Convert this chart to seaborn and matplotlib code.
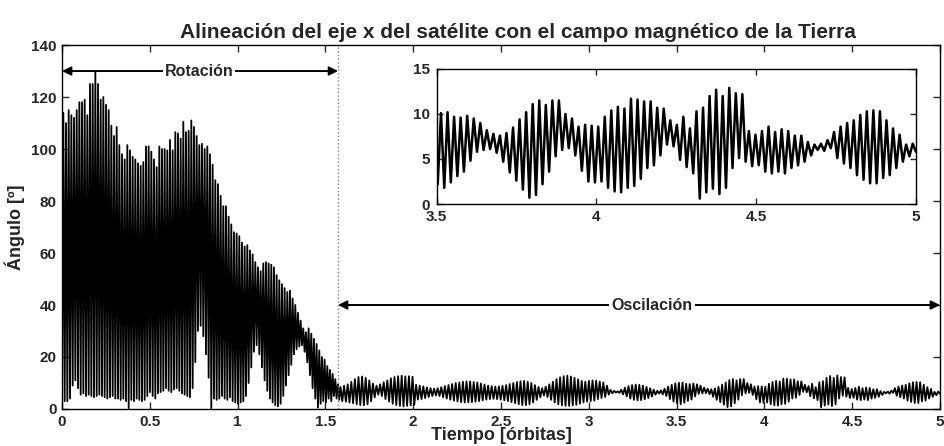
import numpy as np
import pandas as pd
import matplotlib
matplotlib.use("Agg")
import matplotlib.pyplot as plt
import seaborn as sns

sns.set_style("ticks")
plt.rcParams['font.family'] = ['Liberation Sans', 'DejaVu Sans']
plt.rcParams['font.weight'] = 'bold'
plt.rcParams['axes.labelweight'] = 'bold'
plt.rcParams['axes.titleweight'] = 'bold'

# ---- rotation phase: one trough to start, then peak/trough per cycle ----
rot_start = 3.0
rot_peaks = [114, 110, 115, 113, 112, 115, 118, 118, 119, 113,
             125, 125, 129.5, 125, 119, 120, 117, 115, 109, 105,
             108.5, 101.5, 98, 96, 101.5, 99.5, 97, 96, 94.5, 93.5,
             95, 101, 101, 99, 96, 93, 101, 100, 100, 99.5,
             103.5, 99.5, 106.5, 106, 104, 110.5, 106.5, 107, 111, 108.5,
             105, 101.5, 102, 100, 101, 98, 94, 88, 86.5, 82,
             78, 78, 74, 71, 68, 67.5, 66.5, 64, 62.5, 63,
             61, 59.5, 56.5, 54.5, 53, 56, 56.5, 56, 55.5, 54.5,
             51.5, 49.5, 48, 46.5, 45, 45.5, 42.5, 40, 37, 34,
             31, 29.5, 31, 29, 27, 25, 22.5, 20, 19, 16.5,
             15, 13.5, 11.5, 9.5]
rot_troughs = [3, 3, 4, 9, 11, 8, 5.5, 6, 5, 5.5,
               5, 4.5, 5, 5.5, 5, 4.5, 4, 4.5, 5, 4,
               4, 3.5, 4, 3, 0.3, 3.5, 3, 4, 3.5, 3,
               3.5, 5, 6.5, 5, 4, 6, 6.5, 7, 8, 7,
               6.5, 7.5, 8, 7, 6, 5.5, 5, 4.5, 8, 18,
               30, 32, 28, 21, 12, 0.3, 4, 3.5, 4, 5,
               4, 3.5, 4.5, 3, 2.5, 2, 2.5, 3, 5, 10,
               16, 22, 24.5, 21, 16, 11, 7, 4, 2.5, 1.5,
               1, 2, 5, 9, 13, 17, 21, 23, 24, 24.5,
               22, 18, 13, 8, 4, 0.5, 2, 3, 2.5, 4,
               3, 5, 4, 3.5]
rot_t_end = 1.579

# ---- oscillation phase: peak/trough per cycle ----
osc_peaks = [8.5, 9.0, 9.5, 10.5, 11.5, 12.3, 12.5, 12.0, 11.0, 9.8,
             9.0, 9.5, 10.3, 11.0, 11.8, 12.3, 12.6, 12.8, 12.5, 12.6,
             12.4, 9.3, 9.0, 8.7, 8.3, 8.0, 7.8, 8.0, 8.4, 8.8,
             9.2, 9.6, 10.0, 10.2, 10.5, 10.6, 10.6, 10.4, 10.2, 9.8,
             9.4, 9.0, 8.8, 8.6, 8.7, 8.9, 9.2, 9.6, 10.0, 10.4,
             10.7, 10.8, 10.5, 10.0, 9.2, 8.5, 8.0, 8.6, 9.5, 10.5,
             11.5, 12.2, 12.6, 12.8, 12.5, 12.0, 11.4, 10.8, 10.5, 10.8,
             11.0, 10.9, 10.6, 10.2, 9.0, 7.4, 7.0, 6.8, 7.4, 8.2,
             8.8, 9.2, 9.4, 9.3, 9.0, 8.5, 8.0, 7.4, 7.0, 7.2,
             7.8, 8.6, 9.3, 9.9,
             10.1, 10.2, 9.7, 9.6, 9.8, 9.5, 9.0, 8.2, 7.8, 7.6,
             7.9, 8.5, 9.4, 10.2, 11.1, 11.5, 11.0, 11.5, 11.5, 10.0,
             9.5, 8.6, 8.8, 8.7,
             8.6, 9.7, 10.4, 10.8, 10.6, 11.7, 11.6, 11.4, 11.4, 10.7,
             10.6, 9.3, 8.8, 9.7, 8.4, 10.3, 10.7, 12.0, 12.7, 12.0,
             12.9, 12.3, 12.2, 8.1,
             7.7, 8.1, 8.6, 8.0, 8.3, 8.1, 7.6, 7.6, 6.9, 6.6,
             6.7, 7.1, 8.0, 8.6, 9.0, 9.3, 9.9, 10.3, 10.4, 10.3,
             9.3, 8.4, 7.7, 6.6, 6.7]
osc_troughs = [3.0, 2.8, 2.5, 2.2, 1.8, 1.5, 1.4, 1.8, 3.0, 4.5,
               5.5, 5.0, 3.8, 2.8, 2.0, 1.5, 1.2, 1.0, 1.2, 1.4,
               1.6, 3.6, 3.8, 4.2, 4.6, 5.0, 5.2, 5.0, 4.5, 4.0,
               3.6, 3.2, 2.9, 2.6, 2.5, 2.5, 2.6, 2.8, 3.0, 3.3,
               3.6, 3.8, 3.9, 3.8, 3.6, 3.3, 3.0, 2.6, 2.2, 1.8,
               1.5, 1.5, 1.8, 2.5, 3.5, 4.5, 5.2, 4.6, 3.5, 2.5,
               1.8, 1.4, 1.2, 1.2, 1.4, 1.6, 2.0, 2.5, 2.8, 3.0,
               3.2, 3.8, 4.2, 4.6, 5.5, 6.0, 6.3, 6.2, 5.6, 4.8,
               4.0, 3.5, 3.3, 3.4, 3.7, 4.2, 4.8, 5.5, 5.9, 5.6,
               5.0, 3.8, 2.8, 2.2,
               1.8, 2.4, 3.1, 3.6, 4.8, 5.8, 6.0, 6.1, 5.7, 4.7,
               3.5, 2.6, 1.6, 0.7, 1.0, 2.2, 3.6, 5.3, 6.0, 6.2,
               5.4, 3.7, 2.5, 2.4,
               2.5, 1.8, 1.4, 1.3, 1.8, 2.0, 2.8, 4.0, 4.3, 5.4,
               6.6, 6.4, 4.9, 4.1, 3.4, 0.6, 1.3, 1.7, 1.1, 1.8,
               4.0, 5.1, 4.7, 4.2,
               4.3, 3.6, 3.4, 3.6, 3.4, 4.0, 4.3, 4.7, 5.4, 6.0,
               5.9, 6.2, 5.1, 4.5, 4.0, 3.2, 2.7, 2.3, 2.3, 2.9,
               3.2, 4.0, 4.7, 5.3, 5.8]
osc_t_start, osc_t_end = 1.586, 5.0

xticks_main = [0, 0.5, 1, 1.5, 2, 2.5, 3, 3.5, 4, 4.5, 5]
xtick_labels_main = ["0", "0.5", "1", "1.5", "2", "2.5", "3", "3.5", "4", "4.5", "5"]
yticks_main = [0, 20, 40, 60, 80, 100, 120, 140]
xticks_inset = [3.5, 4, 4.5, 5]
xtick_labels_inset = ["3.5", "4", "4.5", "5"]
yticks_inset = [0, 5, 10, 15]
phase_boundary = 1.572

# ---- assemble the time series ----
rot_y = np.empty(1 + 2 * len(rot_peaks))
rot_y[0] = rot_start
rot_y[1::2] = rot_peaks
rot_y[2::2] = rot_troughs
rot_t = np.linspace(0.0, rot_t_end, rot_y.size)

osc_y = np.empty(2 * len(osc_peaks))
osc_y[0::2] = osc_peaks
osc_y[1::2] = osc_troughs
osc_t = np.linspace(osc_t_start, osc_t_end, osc_y.size)

df = pd.DataFrame({"t": np.concatenate([rot_t, osc_t]),
                   "ang": np.concatenate([rot_y, osc_y])})

fig = plt.figure(figsize=(9.44, 4.46), dpi=100)
ax = fig.add_axes([0.0657, 0.083, 0.930, 0.816])

sns.lineplot(data=df, x="t", y="ang", ax=ax, color="black", linewidth=1.3,
             estimator=None, sort=False)
ax.set_xlim(0, 5)
ax.set_ylim(0, 140)
ax.set_xticks(xticks_main)
ax.set_xticklabels(xtick_labels_main)
ax.set_yticks(yticks_main)
ax.tick_params(direction="in", top=True, right=True, length=5, width=1,
               labelsize=11, pad=4)
for s in ax.spines.values():
    s.set_linewidth(1.0)
    s.set_color("black")
ax.set_xlabel("Tiempo [órbitas]", fontsize=13, labelpad=-1)
ax.set_ylabel("Ángulo [º]", fontsize=13, labelpad=4)
ax.set_title("Alineación del eje x del satélite con el campo magnético de la Tierra",
             fontsize=15, pad=5, x=0.519)

ax.axvline(phase_boundary, color="#7f7f7f", ls=":", lw=1.0)

arrow_kw = dict(arrowstyle="<|-|>", color="black", lw=1.4,
                mutation_scale=13, shrinkA=0, shrinkB=0)
ax.annotate("", xy=(0, 130), xytext=(phase_boundary, 130), arrowprops=arrow_kw)
ax.text(0.78, 130, "Rotación", ha="center", va="center", fontsize=11.5,
        bbox=dict(facecolor="white", edgecolor="none", pad=1.5))
ax.annotate("", xy=(phase_boundary, 40), xytext=(5, 40), arrowprops=arrow_kw)
ax.text(3.36, 40, "Oscilación", ha="center", va="center", fontsize=11.5,
        bbox=dict(facecolor="white", edgecolor="none", pad=1.5))

# inset with the late oscillation in detail
axin = fig.add_axes([0.4626, 0.5426, 0.5077, 0.3027])
sns.lineplot(data=df[df.t >= 3.45], x="t", y="ang", ax=axin, color="black",
             linewidth=1.8, estimator=None, sort=False)
axin.set_xlim(3.5, 5)
axin.set_ylim(0, 15)
axin.set_xticks(xticks_inset)
axin.set_xticklabels(xtick_labels_inset)
axin.set_yticks(yticks_inset)
axin.set_xlabel("")
axin.set_ylabel("")
axin.tick_params(direction="in", top=True, right=True, length=4, width=1,
                 labelsize=11)
axin.tick_params(axis="x", pad=4)
axin.tick_params(axis="y", pad=5)
for s in axin.spines.values():
    s.set_linewidth(1.0)
    s.set_color("black")

fig.savefig("out.png", dpi=100, facecolor="white")
